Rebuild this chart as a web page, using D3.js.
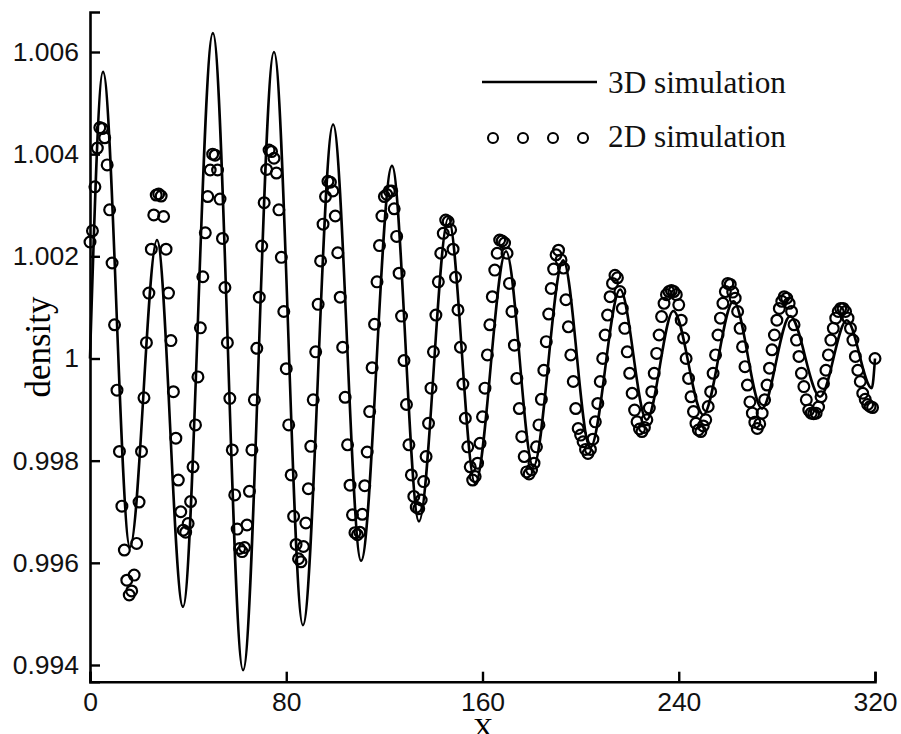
<!DOCTYPE html>
<html><head><meta charset="utf-8">
<script src="https://cdn.jsdelivr.net/npm/d3@7"></script>
<style>body{margin:0;background:#fff}svg{display:block}</style>
</head><body>
<svg id="chart" width="901" height="734"></svg>
<script>
// 3D simulation: extrema of the solid line (x, density)
const x3D = [0, 5.3, 16.3, 27.3, 37.9, 50.1, 62.4, 75.0, 86.8, 99.1, 110.5, 123.1, 134.1, 146.1, 157.0, 169.6, 180.7, 192.9, 203.9, 216.1, 226.9, 237.8, 250.0, 262.3, 273.9, 285.4, 297.6, 308.5, 318.7, 320];
const rho3D = [1.0000, 1.00561, 0.99631, 1.00232, 0.99514, 1.00637, 0.99390, 1.00600, 0.99478, 1.00458, 0.99604, 1.00377, 0.99681, 1.00275, 0.99755, 1.00210, 0.99788, 1.00192, 0.99825, 1.00135, 0.99880, 1.00093, 0.99890, 1.00112, 0.99902, 1.00083, 0.99925, 1.00075, 0.99942, 1.0000];

// 2D simulation: one circle per unit of X (x = 0 ... 320)
const rho2D_a = [1.00228,1.0025,1.00336,1.00412,1.00452,1.0045,1.00432,1.00379,1.00291,1.00187,1.00066,0.99938,0.99818,0.99711,0.99625,0.99566,0.99537,0.99545,0.99576,0.99638,0.99719,0.99818,0.99923,1.00031,1.00128,1.00214,1.00281,1.0032,1.00322,1.00318,1.00278,1.00214,1.00128,1.00035,0.99935,0.99844,0.99762,0.997,0.99664,0.9966,0.99677,0.9972,0.99788,0.9987,0.99964,1.0006,1.0016,1.00246,1.00317,1.00369,1.004,1.00398,1.00369,1.00312,1.00235,1.00139,1.00031,0.99922,0.99821,0.99733,0.99666,0.99628,0.99622,0.9963,0.99674,0.9974,0.99821,0.99919,1.0002,1.0012,1.0022,1.00305,1.0037,1.00408,1.00405,1.00392,1.00363,1.00291,1.00198,1.00092];
const rho2D_b = [0.9998,0.9987,0.99772,0.99691,0.99636,0.99608,0.99602,0.99632,0.99678,0.99745,0.99828,0.99919,1.00013,1.00106,1.00191,1.00263,1.00317,1.00347,1.00345,1.00328,1.00279,1.00207,1.0012,1.00022,0.99924,0.99831,0.99752,0.99694,0.99659,0.99655,0.9966,0.99695,0.99751,0.99817,0.99896,0.99982,1.00067,1.0015,1.00221,1.00279,1.00317,1.00321,1.00328,1.00328,1.00293,1.00239,1.00167,1.00083,0.99996,0.9991,0.99831,0.99772,0.9973,0.99709,0.99706,0.99723,0.99759,0.99808,0.99873,0.99942,1.00013,1.00085,1.0015,1.00206,1.00245,1.00271,1.00268,1.00252,1.00214,1.00159,1.00095,1.00022,0.9995,0.99883,0.99827,0.99788,0.99762,0.99769,0.99795,0.99834];
const rho2D_c = [0.99886,0.99942,1.00007,1.00066,1.00121,1.00173,1.00206,1.00232,1.0023,1.00226,1.00206,1.00147,1.00092,1.00026,0.99961,0.99902,0.99847,0.99808,0.99778,0.99774,0.99782,0.99795,0.99827,0.9987,0.9992,0.99977,1.00033,1.00087,1.00137,1.00175,1.00203,1.00212,1.00193,1.00177,1.00115,1.00062,1.00007,0.99955,0.99902,0.99863,0.9985,0.99837,0.99822,0.99814,0.99822,0.99842,0.99876,0.99912,0.99955,1.0,1.00046,1.00085,1.00121,1.00147,1.00163,1.00158,1.00131,1.00098,1.00059,1.00013,0.99971,0.99932,0.99899,0.99876,0.99862,0.99857,0.99865,0.9988,0.99903,0.99935,0.99971,1.0001,1.00046,1.00082,1.00108,1.00125,1.00131,1.00133,1.00131,1.00125];
const rho2D_d = [1.00105,1.00075,1.0004,1.0,0.99961,0.99925,0.99896,0.99873,0.9986,0.99857,0.99868,0.9988,0.99906,0.99935,0.99971,1.00007,1.00046,1.00079,1.00108,1.00131,1.00147,1.00145,1.0013,1.00118,1.00092,1.00059,1.00023,0.99984,0.99948,0.99915,0.99893,0.99875,0.99863,0.99872,0.99893,0.99919,0.99948,0.99981,1.00017,1.00046,1.00075,1.00098,1.00112,1.00121,1.00118,1.00108,1.00092,1.00066,1.00036,1.00004,0.99971,0.99945,0.99919,0.99899,0.99893,0.99892,0.99893,0.99905,0.99925,0.99951,0.99977,1.00007,1.00036,1.00059,1.00079,1.00092,1.00098,1.00098,1.00092,1.00079,1.00059,1.00036,1.00004,0.99977,0.99955,0.99932,0.9992,0.9991,0.99906,0.99904,1.0];

const xTicks = [0, 80, 160, 240, 320];
const yTicks = [0.994, 0.996, 0.998, 1, 1.002, 1.004, 1.006];
const yTickLabels = ["0.994", "0.996", "0.998", "1", "1.002", "1.004", "1.006"];
const legendLabels = ["3D simulation", "2D simulation"];
const axisTitles = {x: "X", y: "density"};

const rho2D = rho2D_a.concat(rho2D_b, rho2D_c, rho2D_d);

const svg = d3.select("#chart");
const x = d3.scaleLinear().domain([0, 320]).range([90, 875]);
const y = d3.scaleLinear().domain([0.993673, 1.006783]).range([681.7, 12]);

// axes
const yAxis = d3.axisLeft(y).tickValues(yTicks).tickSize(-10).tickPadding(11)
  .tickFormat((d, i) => yTickLabels[i]);
const xAxis = d3.axisBottom(x).tickValues(xTicks).tickSize(-10).tickPadding(10)
  .tickFormat(d3.format("d"));

const gy = svg.append("g").attr("transform", "translate(90,0)").call(yAxis);
const gx = svg.append("g").attr("transform", "translate(0,681.7)").call(xAxis);
[gx, gy].forEach(g => {
  g.select(".domain").attr("stroke", "#000").attr("stroke-width", 2.6);
  g.selectAll(".tick line").attr("stroke", "#000").attr("stroke-width", 2.4);
  g.selectAll(".tick text").attr("fill", "#111")
    .style("font-family", "'Liberation Sans', Arial, sans-serif").style("font-size", "26.5px");
});

// 3D line
const pts3D = x3D.map((d, i) => [d, rho3D[i]]);
const line = d3.line().x(d => x(d[0])).y(d => y(d[1])).curve(d3.curveMonotoneX);
svg.append("path").datum(pts3D).attr("d", line)
  .attr("fill", "none").attr("stroke", "#000").attr("stroke-width", 2.6);

// 2D circles
svg.append("g").selectAll("circle").data(rho2D).join("circle")
  .attr("cx", (d, i) => x(i)).attr("cy", d => y(d)).attr("r", 5.4)
  .attr("fill", "none").attr("stroke", "#000").attr("stroke-width", 2.2);

// axis titles
svg.append("text").attr("x", 483).attr("y", 737).attr("text-anchor", "middle")
  .style("font-family", "'Liberation Serif', 'Times New Roman', serif").style("font-size", "28px")
  .text(axisTitles.x);
svg.append("text").attr("transform", "translate(50,347) rotate(-90)").attr("text-anchor", "middle")
  .style("font-family", "'Liberation Serif', 'Times New Roman', serif").style("font-size", "35px")
  .text(axisTitles.y);

// legend
const lg = svg.append("g");
lg.append("line").attr("x1", 482).attr("x2", 597).attr("y1", 82).attr("y2", 82)
  .attr("stroke", "#000").attr("stroke-width", 2.6);
lg.selectAll("circle").data([493, 523, 553, 583]).join("circle")
  .attr("cx", d => d).attr("cy", 138).attr("r", 5)
  .attr("fill", "none").attr("stroke", "#000").attr("stroke-width", 2.1);
lg.selectAll("text").data(legendLabels).join("text")
  .attr("x", 608).attr("y", (d, i) => i === 0 ? 93 : 147)
  .attr("textLength", 178).attr("lengthAdjust", "spacingAndGlyphs")
  .style("font-family", "'Liberation Serif', 'Times New Roman', serif").style("font-size", "31px")
  .attr("fill", "#111").text(d => d);
</script>
</body></html>
